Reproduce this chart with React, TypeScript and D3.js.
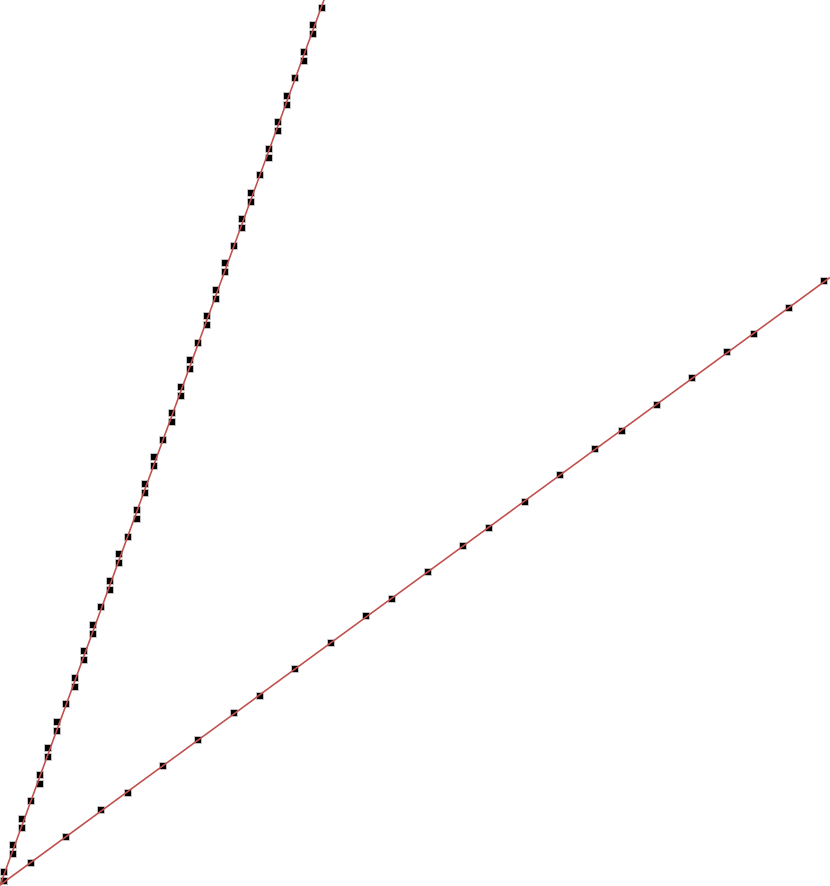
import React, { useEffect, useRef } from 'react';
import * as d3 from 'd3';

// steep series: points stacked in pairs along a ~2.74 slope
const steepX = [0, 0, 1, 1, 2, 2, 3, 4, 4, 5, 5, 6, 6, 7, 8, 8, 9, 9, 10, 10, 11, 12, 12, 13, 13, 14, 15, 15, 16, 16, 17, 17, 18, 19, 19, 20, 20, 21, 21, 22, 23, 23, 24, 24, 25, 25, 26, 27, 27, 28, 28, 29, 30, 30, 31, 31, 32, 32, 33, 34, 34, 35, 35, 36];
const steepY = [0, 1, 3, 4, 6, 7, 9, 11, 12, 14, 15, 17, 18, 20, 22, 23, 25, 26, 28, 29, 31, 33, 34, 36, 37, 39, 41, 42, 44, 45, 47, 48, 50, 52, 53, 55, 56, 58, 59, 61, 63, 64, 66, 67, 69, 70, 72, 74, 75, 77, 78, 80, 82, 83, 85, 86, 88, 89, 91, 93, 94, 96, 97, 99];

// shallow series
const shallowX = [0, 3, 7, 11, 14, 18, 22, 26, 29, 33, 37, 41, 44, 48, 52, 55, 59, 63, 67, 70, 74, 78, 82, 85, 89, 93];
const shallowY = [0, 2, 5, 8, 10, 13, 16, 19, 21, 24, 27, 30, 32, 35, 38, 40, 43, 46, 49, 51, 54, 57, 60, 62, 65, 68];

const width = 830;
const height = 886;

function fit(xs: number[], ys: number[]) {
  const mx = d3.mean(xs) as number;
  const my = d3.mean(ys) as number;
  const sxy = d3.sum(xs, (x, i) => (x - mx) * (ys[i] - my));
  const sxx = d3.sum(xs, x => (x - mx) * (x - mx));
  const slope = sxy / sxx;
  return { slope, intercept: my - slope * mx };
}

function App() {
  const ref = useRef<SVGSVGElement>(null);

  useEffect(() => {
    drawChart();
  }, []);

  function drawChart() {
    const svg = d3.select(ref.current);
    svg.selectAll('*').remove();

    const xScale = d3.scaleLinear().domain([-0.5, 93.65]).range([0, width]);
    const yScale = d3.scaleLinear().domain([-0.6, 99.88]).range([height, 0]);

    const series = [
      { xs: steepX, ys: steepY },
      { xs: shallowX, ys: shallowY },
    ];

    series.forEach(s => {
      const pts = s.xs.map((x, i) => ({ x, y: s.ys[i] }));
      svg
        .append('g')
        .selectAll('rect')
        .data(pts)
        .join('rect')
        .attr('x', d => Math.round(xScale(d.x)) - 3.5)
        .attr('y', d => Math.round(yScale(d.y)) - 3.5)
        .attr('width', 7)
        .attr('height', 7)
        .attr('fill', '#000')
        .attr('stroke', '#d0d0d0')
        .attr('stroke-width', 0.8);
    });

    series.forEach(s => {
      const { slope, intercept } = fit(s.xs, s.ys);
      const [x0, x1] = xScale.domain();
      const line = d3
        .line<number>()
        .x(x => xScale(x))
        .y(x => yScale(intercept + slope * x));
      svg
        .append('path')
        .attr('d', line([x0, x1]))
        .attr('fill', 'none')
        .attr('stroke', '#c0504d')
        .attr('stroke-width', 1.6);
    });
  }

  return (
    <svg
      ref={ref}
      width={width}
      height={height}
      style={{ position: 'absolute', left: 0, top: 0, background: '#fff', overflow: 'hidden' }}
    />
  );
}

export default App;
